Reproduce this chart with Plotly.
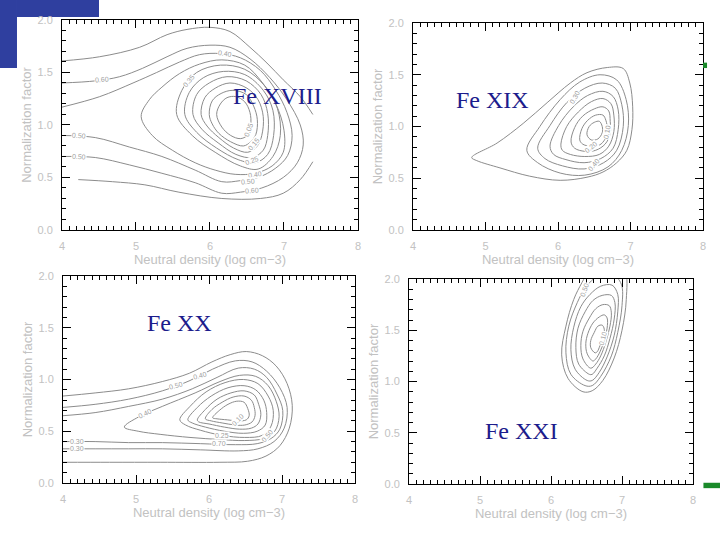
import plotly.graph_objects as go

# Contour lines as (log neutral density, normalization factor)

# Fe XVIII (top left)
fe18_a = [(4.00, 1.61), (4.51, 1.65), (5.05, 1.74), (5.42, 1.86), (5.69, 1.91), (6.00, 1.93), (6.27, 1.89),
          (6.54, 1.74), (6.77, 1.59), (6.99, 1.43), (7.22, 1.27), (7.39, 1.10)]
fe18_b = [(4.00, 1.40), (4.45, 1.42), (4.78, 1.46), (5.09, 1.54), (5.42, 1.65), (5.69, 1.73), (6.00, 1.76),
          (6.27, 1.74), (6.54, 1.63), (6.81, 1.45), (7.04, 1.24), (7.22, 1.00), (7.26, 0.81), (7.18, 0.64),
          (6.99, 0.50), (6.70, 0.40), (6.41, 0.36), (6.16, 0.35), (5.80, 0.45), (5.35, 0.54), (4.91, 0.62),
          (4.45, 0.69), (4.00, 0.70)]
fe18_c = [(4.00, 1.17), (4.51, 1.27), (4.96, 1.40), (5.28, 1.50), (5.59, 1.60), (5.86, 1.67), (6.14, 1.68),
          (6.41, 1.64), (6.68, 1.52), (6.89, 1.33), (7.04, 1.12), (7.11, 0.90), (7.05, 0.71), (6.89, 0.59),
          (6.65, 0.50), (6.41, 0.47), (6.16, 0.46), (5.80, 0.57), (5.35, 0.70), (4.91, 0.79), (4.45, 0.88),
          (4.00, 0.90)]
fe18_t = [(5.07, 1.08), (5.18, 1.24), (5.35, 1.36), (5.59, 1.49), (5.86, 1.58), (6.16, 1.62), (6.47, 1.57),
          (6.70, 1.41), (6.89, 1.20), (7.00, 0.95), (6.99, 0.74), (6.84, 0.61), (6.61, 0.54), (6.34, 0.53),
          (6.07, 0.57), (5.80, 0.64), (5.49, 0.76), (5.22, 0.90), (5.07, 1.08)]
fe18_l5 = [(5.55, 1.10), (5.62, 1.33), (5.82, 1.50), (6.14, 1.57), (6.47, 1.53), (6.73, 1.38), (6.91, 1.16),
           (6.95, 0.90), (6.85, 0.70), (6.65, 0.58), (6.41, 0.61), (6.07, 0.74), (5.76, 0.90), (5.55, 1.10)]
fe18_l4 = [(5.66, 1.10), (5.72, 1.31), (5.91, 1.45), (6.18, 1.51), (6.47, 1.48), (6.72, 1.33), (6.85, 1.14),
           (6.86, 0.90), (6.78, 0.72), (6.61, 0.64), (6.38, 0.67), (6.09, 0.78), (5.82, 0.93), (5.66, 1.10)]
fe18_l3 = [(5.77, 1.10), (5.82, 1.29), (5.99, 1.40), (6.23, 1.46), (6.49, 1.42), (6.69, 1.29), (6.78, 1.11),
           (6.78, 0.90), (6.72, 0.76), (6.57, 0.69), (6.35, 0.72), (6.11, 0.83), (5.89, 0.96), (5.77, 1.10)]
fe18_l2 = [(5.88, 1.10), (5.93, 1.26), (6.07, 1.35), (6.27, 1.40), (6.50, 1.35), (6.65, 1.24), (6.72, 1.08),
           (6.70, 0.90), (6.64, 0.80), (6.51, 0.74), (6.32, 0.78), (6.12, 0.88), (5.96, 0.99), (5.88, 1.10)]
fe18_l1 = [(5.99, 1.10), (6.03, 1.23), (6.15, 1.30), (6.31, 1.33), (6.49, 1.29), (6.59, 1.18), (6.64, 1.05),
           (6.62, 0.91), (6.55, 0.84), (6.45, 0.80), (6.28, 0.84), (6.12, 0.92), (6.03, 1.01), (5.99, 1.10)]
fe18_l0 = [(6.09, 1.10), (6.14, 1.20), (6.23, 1.26), (6.35, 1.27), (6.47, 1.22), (6.54, 1.12), (6.55, 1.00),
           (6.50, 0.90), (6.41, 0.87), (6.28, 0.90), (6.16, 0.98), (6.09, 1.10)]
fe18_d = [(4.22, 0.48), (4.68, 0.46), (5.12, 0.43), (5.58, 0.36), (6.16, 0.30), (6.68, 0.30), (6.99, 0.35),
          (7.22, 0.48), (7.39, 0.65)]

# Fe XIX (top right)
fe19_o = [(4.81, 0.70), (5.16, 0.84), (5.52, 1.03), (5.85, 1.23), (6.17, 1.42), (6.40, 1.52), (6.68, 1.57),
          (6.90, 1.56), (6.99, 1.42), (7.03, 1.19), (7.02, 0.97), (6.95, 0.77), (6.81, 0.65), (6.62, 0.56),
          (6.40, 0.51), (6.03, 0.48), (5.61, 0.52), (5.20, 0.60), (4.88, 0.67), (4.81, 0.70)]
fe19_q1 = [(5.57, 0.77), (5.75, 1.00), (6.03, 1.26), (6.30, 1.43), (6.58, 1.50), (6.81, 1.45), (6.94, 1.26),
           (6.97, 1.01), (6.88, 0.77), (6.69, 0.61), (6.37, 0.53), (6.03, 0.55), (5.72, 0.65), (5.57, 0.77)]
fe19_q2 = [(5.72, 0.79), (5.89, 1.01), (6.12, 1.23), (6.37, 1.37), (6.61, 1.42), (6.79, 1.37), (6.88, 1.21),
           (6.90, 1.00), (6.81, 0.77), (6.63, 0.65), (6.36, 0.59), (6.06, 0.62), (5.82, 0.69), (5.72, 0.79)]
fe19_q3 = [(5.89, 0.81), (6.01, 1.01), (6.21, 1.19), (6.41, 1.30), (6.62, 1.34), (6.76, 1.29), (6.83, 1.16),
           (6.83, 0.97), (6.76, 0.79), (6.59, 0.69), (6.36, 0.65), (6.11, 0.68), (5.94, 0.73), (5.89, 0.81)]
fe19_q4 = [(6.04, 0.83), (6.12, 1.00), (6.28, 1.14), (6.46, 1.24), (6.62, 1.27), (6.73, 1.22), (6.77, 1.11),
           (6.77, 0.95), (6.70, 0.81), (6.57, 0.73), (6.37, 0.71), (6.17, 0.73), (6.06, 0.77), (6.04, 0.83)]
fe19_q5 = [(6.18, 0.85), (6.23, 0.99), (6.34, 1.10), (6.50, 1.17), (6.62, 1.19), (6.70, 1.15), (6.72, 1.05),
           (6.72, 0.93), (6.65, 0.83), (6.52, 0.77), (6.37, 0.76), (6.23, 0.79), (6.18, 0.85)]
fe19_q6 = [(6.30, 0.87), (6.33, 0.98), (6.41, 1.06), (6.52, 1.11), (6.62, 1.11), (6.66, 1.06), (6.68, 0.97),
           (6.65, 0.88), (6.57, 0.82), (6.44, 0.81), (6.34, 0.83), (6.30, 0.87)]
fe19_q7 = [(6.40, 0.92), (6.43, 1.00), (6.50, 1.04), (6.57, 1.05), (6.61, 1.00), (6.61, 0.94), (6.55, 0.88),
           (6.46, 0.87), (6.40, 0.92)]

# Fe XX (bottom left)
fe20_e1 = [(4.00, 0.84), (4.44, 0.87), (4.90, 0.91), (5.36, 0.98), (5.73, 1.06), (6.04, 1.17), (6.29, 1.24),
           (6.51, 1.27), (6.73, 1.23), (6.92, 1.13), (7.07, 0.96), (7.14, 0.75), (7.10, 0.53), (6.97, 0.36),
           (6.78, 0.26), (6.53, 0.21), (6.15, 0.20), (5.33, 0.20), (4.64, 0.20), (4.00, 0.20)]
fe20_e2 = [(4.00, 0.73), (4.44, 0.76), (4.90, 0.81), (5.36, 0.89), (5.74, 0.99), (6.05, 1.10), (6.36, 1.18),
           (6.59, 1.17), (6.79, 1.08), (6.97, 0.92), (7.07, 0.73), (7.03, 0.53), (6.89, 0.40), (6.67, 0.33),
           (6.40, 0.31), (5.88, 0.32), (5.36, 0.33), (4.90, 0.33), (4.44, 0.33), (4.00, 0.33)]
fe20_e3 = [(4.00, 0.65), (4.44, 0.68), (4.90, 0.74), (5.36, 0.81), (5.77, 0.91), (6.11, 1.02), (6.40, 1.11),
           (6.62, 1.10), (6.79, 1.02), (6.93, 0.86), (7.01, 0.70), (6.97, 0.52), (6.85, 0.43), (6.66, 0.38),
           (6.36, 0.37), (5.88, 0.38), (5.36, 0.39), (4.90, 0.39), (4.44, 0.40), (4.00, 0.40)]
fe20_t = [(4.84, 0.54), (5.04, 0.64), (5.36, 0.74), (5.81, 0.87), (6.15, 0.98), (6.42, 1.04), (6.64, 1.03),
          (6.81, 0.94), (6.92, 0.79), (6.96, 0.64), (6.90, 0.50), (6.75, 0.43), (6.49, 0.41), (6.15, 0.42),
          (5.74, 0.44), (5.33, 0.47), (5.03, 0.50), (4.84, 0.54)]
fe20_m4 = [(5.60, 0.61), (5.74, 0.74), (5.96, 0.88), (6.22, 0.97), (6.47, 1.00), (6.67, 0.96), (6.81, 0.84),
           (6.88, 0.70), (6.85, 0.55), (6.73, 0.46), (6.49, 0.44), (6.18, 0.46), (5.88, 0.51), (5.68, 0.56),
           (5.60, 0.61)]
fe20_m3 = [(5.71, 0.61), (5.84, 0.73), (6.03, 0.84), (6.26, 0.92), (6.48, 0.94), (6.64, 0.90), (6.75, 0.80),
           (6.79, 0.68), (6.77, 0.56), (6.66, 0.50), (6.47, 0.48), (6.21, 0.50), (5.95, 0.54), (5.77, 0.58),
           (5.71, 0.61)]
fe20_m2 = [(5.84, 0.61), (5.95, 0.71), (6.11, 0.81), (6.30, 0.87), (6.48, 0.89), (6.62, 0.85), (6.68, 0.76),
           (6.71, 0.66), (6.67, 0.57), (6.58, 0.53), (6.42, 0.52), (6.21, 0.54), (6.00, 0.57), (5.86, 0.59),
           (5.84, 0.61)]
fe20_m1 = [(5.95, 0.62), (6.04, 0.71), (6.18, 0.78), (6.33, 0.83), (6.48, 0.84), (6.58, 0.80), (6.62, 0.73),
           (6.63, 0.65), (6.59, 0.59), (6.49, 0.56), (6.36, 0.56), (6.18, 0.58), (6.03, 0.60), (5.95, 0.62)]
fe20_m0 = [(6.05, 0.63), (6.14, 0.70), (6.26, 0.76), (6.38, 0.79), (6.48, 0.78), (6.53, 0.72), (6.55, 0.65),
           (6.51, 0.61), (6.40, 0.60), (6.25, 0.61), (6.11, 0.62), (6.05, 0.63)]

# Fe XXI (bottom right), outer rings run past the top of the frame
fe21_n1 = [(6.45, 0.90), (6.24, 1.03), (6.15, 1.26), (6.21, 1.54), (6.32, 1.80), (6.44, 1.97), (6.62, 2.17),
           (6.86, 2.20), (7.04, 2.09), (7.06, 1.80), (7.00, 1.50), (6.89, 1.23), (6.73, 1.01), (6.58, 0.91),
           (6.45, 0.90)]
fe21_n2 = [(6.48, 0.96), (6.28, 1.07), (6.21, 1.28), (6.25, 1.54), (6.37, 1.77), (6.49, 1.92), (6.66, 2.03),
           (6.86, 2.05), (6.99, 1.95), (7.00, 1.74), (6.94, 1.48), (6.85, 1.25), (6.70, 1.05), (6.58, 0.96),
           (6.48, 0.96)]
fe21_n3 = [(6.51, 1.01), (6.34, 1.12), (6.28, 1.31), (6.32, 1.53), (6.42, 1.73), (6.55, 1.85), (6.70, 1.93),
           (6.86, 1.94), (6.94, 1.85), (6.94, 1.68), (6.89, 1.45), (6.79, 1.24), (6.68, 1.09), (6.58, 1.01),
           (6.51, 1.01)]
fe21_n4 = [(6.54, 1.07), (6.39, 1.17), (6.35, 1.33), (6.38, 1.52), (6.48, 1.68), (6.59, 1.79), (6.72, 1.84),
           (6.85, 1.84), (6.90, 1.77), (6.89, 1.61), (6.83, 1.42), (6.75, 1.25), (6.65, 1.13), (6.58, 1.07),
           (6.54, 1.07)]
fe21_n5 = [(6.56, 1.13), (6.45, 1.22), (6.42, 1.35), (6.45, 1.49), (6.54, 1.62), (6.63, 1.71), (6.73, 1.75),
           (6.82, 1.74), (6.85, 1.67), (6.83, 1.54), (6.77, 1.38), (6.70, 1.25), (6.63, 1.17), (6.56, 1.13)]
fe21_n6 = [(6.59, 1.20), (6.51, 1.27), (6.49, 1.37), (6.52, 1.47), (6.59, 1.57), (6.68, 1.63), (6.75, 1.65),
           (6.79, 1.62), (6.79, 1.52), (6.75, 1.40), (6.69, 1.29), (6.63, 1.22), (6.59, 1.20)]
fe21_n7 = [(6.62, 1.28), (6.56, 1.33), (6.56, 1.40), (6.61, 1.48), (6.66, 1.54), (6.72, 1.55), (6.75, 1.51),
           (6.73, 1.42), (6.69, 1.35), (6.65, 1.29), (6.62, 1.28)]

ions = ["Fe XVIII", "Fe XIX", "Fe XX", "Fe XXI"]

# contour level labels: (text, log n, factor, angle)
fe18_levels = [("0.60", 4.54, 1.43, -5), ("0.50", 4.23, 0.90, 4), ("0.50", 4.23, 0.70, 3),
               ("0.40", 6.20, 1.68, 8), ("0.35", 5.72, 1.42, -50), ("0.05", 6.52, 0.96, -70),
               ("0.15", 6.60, 0.82, -50), ("0.25", 6.57, 0.66, -20), ("0.40", 6.61, 0.53, -8),
               ("0.50", 6.51, 0.46, -5), ("0.60", 6.57, 0.38, -5)]
fe19_levels = [("0.30", 6.23, 1.28, -60), ("0.10", 6.68, 0.95, -80), ("0.20", 6.45, 0.80, -40),
               ("0.40", 6.50, 0.63, -50)]
fe20_levels = [("0.30", 4.19, 0.40, 0), ("0.30", 4.19, 0.33, 0), ("0.50", 5.55, 0.94, -15),
               ("0.40", 5.88, 1.04, -15), ("0.40", 5.12, 0.67, -25), ("0.10", 6.40, 0.61, -45),
               ("0.25", 6.18, 0.46, 0), ("0.70", 6.14, 0.38, 0), ("0.50", 6.80, 0.46, -50)]
fe21_levels = [("0.50", 6.47, 1.90, -70), ("0.10", 6.73, 1.42, -75)]

panels = [
    dict(lines=[fe18_a, fe18_b, fe18_c, fe18_t, fe18_l5, fe18_l4, fe18_l3, fe18_l2, fe18_l1, fe18_l0, fe18_d],
         levels=fe18_levels, name=(6.91, 1.28), dx=[0.0861, 0.4972], dy=[0.5741, 0.9630]),
    dict(lines=[fe19_o, fe19_q1, fe19_q2, fe19_q3, fe19_q4, fe19_q5, fe19_q6, fe19_q7],
         levels=fe19_levels, name=(5.09, 1.26), dx=[0.5736, 0.9764], dy=[0.5741, 0.9574]),
    dict(lines=[fe20_e1, fe20_e2, fe20_e3, fe20_t, fe20_m4, fe20_m3, fe20_m2, fe20_m1, fe20_m0],
         levels=fe20_levels, name=(5.60, 1.55), dx=[0.0875, 0.4931], dy=[0.1056, 0.4889]),
    dict(lines=[fe21_n1, fe21_n2, fe21_n3, fe21_n4, fe21_n5, fe21_n6, fe21_n7],
         levels=fe21_levels, name=(5.58, 0.52), dx=[0.5681, 0.9625], dy=[0.1037, 0.4833]),
]

grey = "#c2c2c2"
tickfont = dict(family="Liberation Sans", size=11, color=grey)
titlefont = dict(family="Liberation Sans", size=13, color=grey)

fig = go.Figure()
annotations = []
layout = {}

for i, p in enumerate(panels, start=1):
    sx = "" if i == 1 else str(i)
    xref, yref = "x" + sx, "y" + sx
    for line in p["lines"]:
        fig.add_trace(go.Scatter(
            x=[pt[0] for pt in line], y=[pt[1] for pt in line],
            mode="lines", line=dict(color="#8c8c8c", width=1, shape="spline", smoothing=1.0),
            hoverinfo="skip", showlegend=False, xaxis=xref, yaxis=yref))
    for txt, lx, ly, ang in p["levels"]:
        annotations.append(dict(x=lx, y=ly, xref=xref, yref=yref, text=txt, showarrow=False,
                                textangle=ang, bgcolor="white", borderpad=0,
                                font=dict(family="Liberation Sans", size=7, color="#a0a0a0")))
    annotations.append(dict(x=p["name"][0], y=p["name"][1], xref=xref, yref=yref, text=ions[i - 1],
                            showarrow=False, font=dict(family="Liberation Serif", size=24, color="#1c1c8c")))
    layout["xaxis" + sx] = dict(
        domain=p["dx"], anchor=yref, range=[4, 8], tick0=4, dtick=1,
        ticks="inside", ticklen=8, tickcolor="black", showline=True, linecolor="black", linewidth=1,
        mirror="allticks", showgrid=False, zeroline=False, automargin=False,
        minor=dict(tick0=4, dtick=0.1, ticks="inside", ticklen=4, tickcolor="black", showgrid=False),
        tickfont=tickfont, ticklabelstandoff=6,
        title=dict(text="Neutral density (log cm−3)", font=titlefont, standoff=2))
    layout["yaxis" + sx] = dict(
        domain=p["dy"], anchor=xref, range=[0, 2], tick0=0, dtick=0.5, tickformat=".1f",
        ticks="inside", ticklen=8, tickcolor="black", showline=True, linecolor="black", linewidth=1,
        mirror="allticks", showgrid=False, zeroline=False, automargin=False,
        minor=dict(tick0=0, dtick=0.1, ticks="inside", ticklen=4, tickcolor="black", showgrid=False),
        tickfont=tickfont, ticklabelstandoff=6,
        title=dict(text="Normalization factor", font=titlefont, standoff=2))

# slide decoration: logo corner and green marks
shapes = [
    dict(type="rect", xref="paper", yref="paper", x0=0, x1=0.0236, y0=0.874, y1=1,
         fillcolor="#2f3f9f", line=dict(width=0), layer="below"),
    dict(type="rect", xref="paper", yref="paper", x0=0.0236, x1=0.1375, y0=0.9685, y1=1,
         fillcolor="#2f3f9f", line=dict(width=0), layer="below"),
    dict(type="rect", xref="paper", yref="paper", x0=0.9764, x1=0.982, y0=0.874, y1=0.884,
         fillcolor="#1a8a2a", line=dict(width=0)),
    dict(type="rect", xref="paper", yref="paper", x0=0.977, x1=1, y0=0.096, y1=0.106,
         fillcolor="#1a8a2a", line=dict(width=0)),
]

fig.update_layout(
    width=720, height=540,
    margin=dict(l=0, r=0, t=0, b=0),
    paper_bgcolor="white", plot_bgcolor="white",
    template="none",
    showlegend=False,
    annotations=annotations,
    shapes=shapes,
    **layout,
)

# the page body has a default 8px margin; drop it so the 720x540 figure fills the window
fig.write_html("out.html", config={"displayModeBar": False},
               post_script="document.body.style.margin = '0';")
